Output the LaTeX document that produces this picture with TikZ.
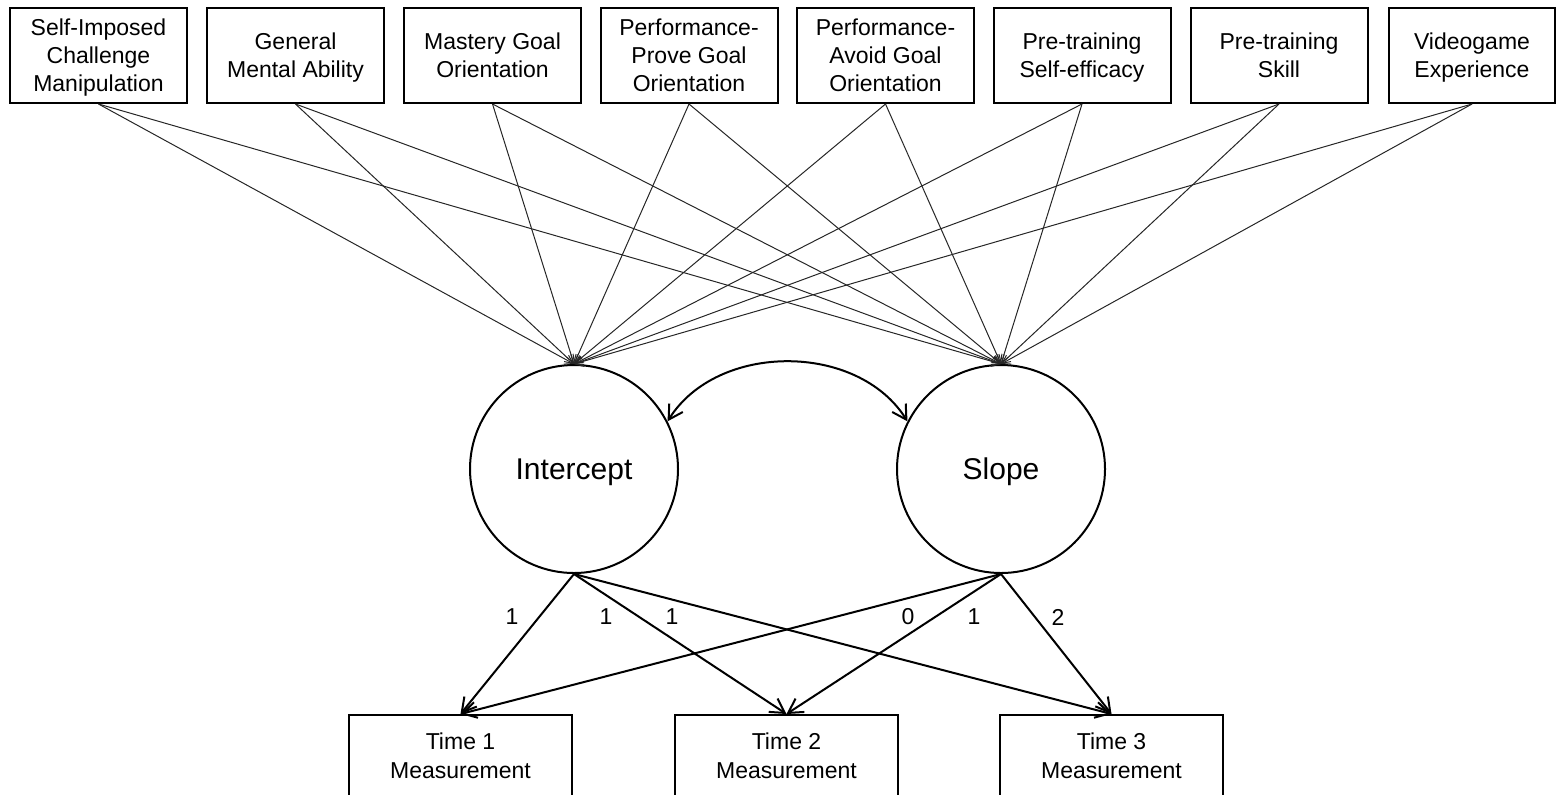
\documentclass[tikz,border=0pt]{standalone}
\usepackage{fontspec}
\setmainfont{Liberation Sans}
\usetikzlibrary{arrows.meta}
\begin{document}
\begin{tikzpicture}[x=0.5pt,y=-0.5pt,
  predictor/.style={draw,line width=1pt,minimum width=88.5pt,minimum height=47.5pt,
    inner sep=0pt,text depth=0pt,align=center,font=\fontsize{11.5}{14}\selectfont},
  latent/.style={draw,circle,line width=1pt,minimum size=104pt,inner sep=0pt,
    text depth=0pt,font=\fontsize{15}{18}\selectfont},
  measure/.style={draw,line width=1pt,minimum width=111.5pt,minimum height=41pt,
    inner sep=0pt,align=center,font=\fontsize{11.5}{14.5}\selectfont},
  regress/.style={draw=black!85,line width=0.5pt,-{Straight Barb[length=4pt,width=5pt]}},
  loading/.style={line width=1pt,-{Straight Barb[length=7pt,width=8pt]}},
  weight/.style={inner sep=0pt,font=\fontsize{11.5}{14}\selectfont}
]
\path[use as bounding box] (0,0) rectangle (1556,794);
\clip (0,0) rectangle (1556,794);

% predictors
\node[predictor] (p1) at (98.5,55.5)  {Self-Imposed\\Challenge\\Manipulation};
\node[predictor] (p2) at (295.5,55.5) {General\\Mental Ability};
\node[predictor] (p3) at (492.5,55.5) {Mastery Goal\\Orientation};
\node[predictor] (p4) at (689,55.5)   {Performance-\\Prove Goal\\Orientation};
\node[predictor] (p5) at (885.5,55.5) {Performance-\\Avoid Goal\\Orientation};
\node[predictor] (p6) at (1082,55.5)  {Pre-training\\Self-efficacy};
\node[predictor] (p7) at (1279,55.5)  {Pre-training\\Skill};
\node[predictor,minimum width=83pt] (p8) at (1472,55.5) {Videogame\\Experience};

% growth factors
\node[latent] (I) at (574,469)  {Intercept};
\node[latent] (S) at (1001,469) {Slope};

% repeated measures
\node[measure] (t1) at (460.5,756)  {Time 1\\Measurement};
\node[measure] (t2) at (786.5,756)  {Time 2\\Measurement};
\node[measure] (t3) at (1111.5,756) {Time 3\\Measurement};

% predictor paths
\foreach \p in {p1,p2,p3,p4,p5,p6,p7,p8}{
  \draw[regress] (\p.south) -- (I.north);
  \draw[regress] (\p.south) -- (S.north);
}

% factor covariance
\draw[line width=1pt,{Straight Barb[length=7pt,width=8pt]}-{Straight Barb[length=7pt,width=8pt]}]
  (I.27) to[out=58,in=122] (S.153);

% factor loadings
\draw[loading] (I.south) -- (t1.north);
\draw[loading] (I.south) -- (t2.north);
\draw[loading] (I.south) -- (t3.north);
\draw[loading] (S.south) -- (t1.north);
\draw[loading] (S.south) -- (t2.north);
\draw[loading] (S.south) -- (t3.north);

\node[weight] (w1) at (512,617)  {1};
\node[weight] (w2) at (606,617)  {1};
\node[weight] (w3) at (672,617)  {1};
\node[weight] (w4) at (908,617)  {0};
\node[weight] (w5) at (974,617)  {1};
\node[weight] (w6) at (1058,617) {2};
\end{tikzpicture}
\end{document}
